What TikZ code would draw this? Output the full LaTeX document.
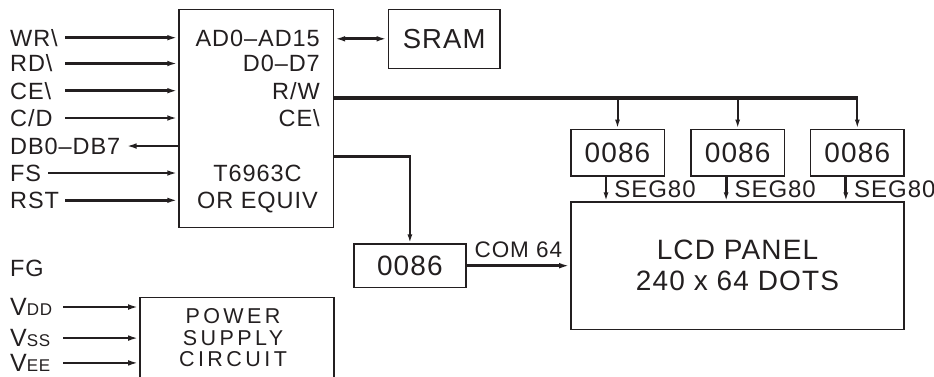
\documentclass[tikz,border=0pt]{standalone}
\usepackage{fontspec}
\setmainfont{Liberation Sans}[LetterSpace=4]
\usetikzlibrary{arrows.meta,calc}
\definecolor{ink}{HTML}{231F20}
\begin{document}
\begin{tikzpicture}[x=1pt,y=-1pt,
  box/.style={draw=ink, line width=1.6pt, inner sep=0pt, text=ink},
  lbl/.style={inner sep=0pt, text=ink, font=\fontsize{23.5}{26}\selectfont, anchor=base west},
  rlbl/.style={lbl, anchor=base east},
  clbl/.style={lbl, anchor=base},
  chip/.style={box, minimum width=93.6pt, minimum height=46.7pt, font=\fontsize{28}{30}\selectfont},
  tip/.tip={Latex[length=11pt,width=5.5pt]},
  stip/.tip={Latex[length=9pt,width=5pt]},
  inarr/.style={draw=ink, line width=2.8pt, -tip},
  bus/.style={draw=ink, line width=3.2pt},
  drop/.style={draw=ink, line width=2pt, -stip},
  seg/.style={draw=ink, line width=2.8pt, -stip}]
\useasboundingbox (0,0) rectangle (934,376);
\begin{scope}
\clip (0,0) rectangle (934,376);
% boxes
\node[box, minimum width=154.3pt, minimum height=218.1pt] (ctrl) at (256.2,118.5) {};
\node[box, minimum width=111.7pt, minimum height=59pt, font=\fontsize{27.5}{30}\selectfont] (sram) at (444.2,38.8) {SRAM};
\node[chip] (b1) at (617.5,152.7) {0086};
\node[chip] (b2) at (737.7,152.7) {0086};
\node[chip] (b3) at (857.3,152.7) {0086};
\node[chip, minimum width=111.7pt, minimum height=43.3pt] (b4) at (409.9,265.7) {0086};
\node[box, minimum width=333pt, minimum height=127.3pt, align=center, font=\fontsize{28}{31}\selectfont] (lcd) at (737.5,265.7) {LCD PANEL\\240 x 64 DOTS};
\node[box, minimum width=194pt, minimum height=102.7pt] (pwr) at (237,348.7) {};
% controller internal labels
\node[rlbl] (ad) at (320,46.1) {AD0--AD15};
\node[rlbl] (dd) at (320,71.9) {D0--D7};
\node[rlbl] (rw) at (320,99.1) {R/W};
\node[rlbl] (ce2) at (320,126.4) {CE\textbackslash};
\node[clbl] (t1) at (257.5,181.1) {T6963C};
\node[clbl] (t2) at (257.5,208.4) {OR EQUIV};
% left labels
\node[lbl] (wr) at (10,46.1) {WR\textbackslash};
\node[lbl] (rd) at (10,71.9) {RD\textbackslash};
\node[lbl] (ce) at (10,99.1) {CE\textbackslash};
\node[lbl] (cd) at (10,126.4) {C/D};
\node[lbl] (db) at (10,154.1) {DB0--DB7};
\node[lbl] (fs) at (10,181.1) {FS};
\node[lbl] (rst) at (10,208.4) {RST};
\node[lbl] (fg) at (10,276.7) {FG};
\node[lbl, font=\fontsize{25}{26}\selectfont] (vdd) at (10,315.6) {V{\fontsize{17}{18}\selectfont DD}};
\node[lbl, font=\fontsize{25}{26}\selectfont] (vss) at (10,346.6) {V{\fontsize{17}{18}\selectfont SS}};
\node[lbl, font=\fontsize{25}{26}\selectfont] (vee) at (10,371.5) {V{\fontsize{17}{18}\selectfont EE}};
% power text
\node[clbl, font=\fontsize{21.5}{22}\addfontfeature{LetterSpace=16}] (p1) at (233,323.7) {POWER};
\node[clbl, font=\fontsize{21.5}{22}\addfontfeature{LetterSpace=16}] (p2) at (233,345) {SUPPLY};
\node[clbl, font=\fontsize{21.5}{22}\addfontfeature{LetterSpace=16}] (p3) at (233,366) {CIRCUIT};
% input connectors
\coordinate (inx) at (65,0);
\coordinate (pinx) at (63,0);
\foreach \n in {wr,rd,ce,cd,rst}
  \draw[inarr] (\n.east -| inx) -- (\n.east -| ctrl.west);
\draw[inarr] ([xshift=7pt]fs.east) -- (fs.east -| ctrl.west);
\draw[inarr] (db.east -| ctrl.west) -- ([xshift=5pt]db.east);
\foreach \n in {vdd,vss,vee}
  \draw[inarr] (\n.east -| pinx) -- (\n.east -| pwr.west);
% SRAM
\draw[inarr, tip-tip] (ctrl.east |- sram.west) -- (sram.west);
% R/W bus
\coordinate (busy) at (0,98);
\draw[bus] (ctrl.east |- busy) -- ([xshift=1pt]b3.north |- busy);
\foreach \b in {b1,b2,b3}
  \draw[drop] (\b.north |- busy) -- (\b.north);
% second line to column driver
\coordinate (c2y) at (0,156.5);
\draw[bus] (ctrl.east |- c2y) -- ([xshift=1pt]b4.north |- c2y);
\draw[drop] (b4.north |- c2y) -- (b4.north);
% SEG80
\foreach \b in {b1,b2,b3}
  \draw[seg] ([xshift=-11.5pt]\b.south) -- ([xshift=-11.5pt]\b.south |- lcd.north)
    node[midway, anchor=west, xshift=7pt, inner sep=0pt, text=ink, font=\fontsize{24}{26}\selectfont] {SEG80};
% COM 64
\draw[inarr] (b4.east) -- (b4.east -| lcd.west)
  node[midway, above=6.5pt, inner sep=0pt, text=ink, font=\fontsize{22.5}{26}\selectfont] {COM 64};
\end{scope}
\end{tikzpicture}
\end{document}
